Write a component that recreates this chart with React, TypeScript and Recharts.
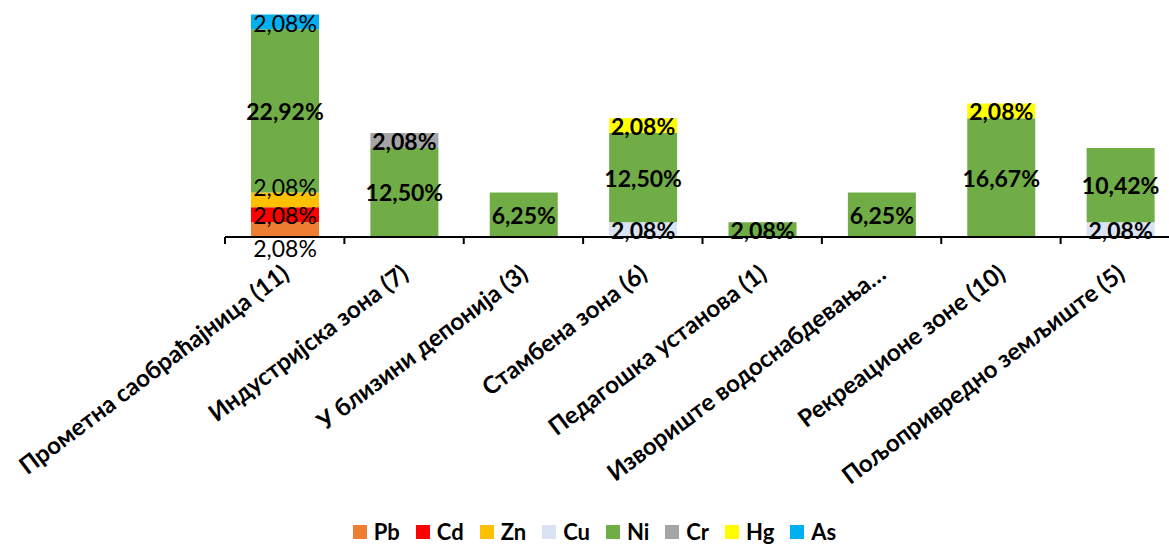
import { Bar, BarChart, LabelList, Legend, XAxis, YAxis } from "recharts";

const categories = [
  "Прометна саобраћајница (11)",
  "Индустријска зона (7)",
  "У близини депонија (3)",
  "Стамбена зона (6)",
  "Педагошка установа (1)",
  "Извориште водоснабдевања…",
  "Рекреационе зоне (10)",
  "Пољопривредно земљиште (5)",
];

const pb = [2.08, null, null, null, null, null, null, null];
const cd = [2.08, null, null, null, null, null, null, null];
const zn = [2.08, null, null, null, null, null, null, null];
const cu = [null, null, null, 2.08, null, null, null, 2.08];
const ni = [22.92, 12.5, 6.25, 12.5, 2.08, 6.25, 16.67, 10.42];
const cr = [null, 2.08, null, null, null, null, null, null];
const hg = [null, null, null, 2.08, null, null, 2.08, null];
const as = [2.08, null, null, null, null, null, null, null];

const series = [
  { key: "Pb", values: pb, color: "#ED7D31" },
  { key: "Cd", values: cd, color: "#FF0000" },
  { key: "Zn", values: zn, color: "#FFC000" },
  { key: "Cu", values: cu, color: "#DAE3F3" },
  { key: "Ni", values: ni, color: "#70AD47" },
  { key: "Cr", values: cr, color: "#A5A5A5" },
  { key: "Hg", values: hg, color: "#FFFF00" },
  { key: "As", values: as, color: "#00B0F0" },
];

const data = categories.map((name, i) => {
  const row: Record<string, string | number | null> = { name };
  series.forEach((s) => {
    row[s.key] = s.values[i];
  });
  return row;
});

const FONT = "Lato, 'Open Sans', sans-serif";

// first bar has a few labels that Excel drew thin and nudged
const firstBarTweaks: Record<string, { dy: number; bold: boolean }> = {
  Pb: { dy: 18, bold: false },
  Cd: { dy: 0, bold: false },
  Zn: { dy: -13, bold: false },
  As: { dy: 1, bold: false },
};

const fmt = (v: number) => v.toFixed(2).replace(".", ",") + "%";

const segmentLabel = (key: string) => (props: any) => {
  const { x, y, width, height, value, index } = props;
  if (value == null || value === 0) return null;
  const tweak = index === 0 ? firstBarTweaks[key] : undefined;
  return (
    <text
      x={Number(x) + Number(width) / 2}
      y={Number(y) + Number(height) / 2 + (tweak ? tweak.dy : 0)}
      textAnchor="middle"
      dominantBaseline="central"
      fontFamily={FONT}
      fontSize={23}
      fontWeight={tweak && !tweak.bold ? 400 : 700}
      fill="#000"
    >
      {fmt(Number(value))}
    </text>
  );
};

function CategoryTick(props: any) {
  const { x, y, payload } = props;
  const half = payload?.offset ?? 59.7;
  const axisY = y - 8;
  return (
    <g>
      <line x1={x - half} x2={x - half} y1={axisY} y2={axisY + 7} stroke="#000" strokeWidth={2} />
      <text
        transform={`translate(${x + 6},${axisY + 40}) rotate(-37)`}
        textAnchor="end"
        fontFamily={FONT}
        fontSize={24}
        fontWeight={700}
        fill="#000"
      >
        {payload.value}
      </text>
    </g>
  );
}

function LegendContent() {
  return (
    <div style={{ display: "flex", justifyContent: "center", fontFamily: FONT, lineHeight: "23px" }}>
      {series.map((s) => (
        <div key={s.key} style={{ display: "flex", alignItems: "center", marginRight: 16 }}>
          <span style={{ width: 14, height: 14, background: s.color, display: "inline-block", marginRight: 7 }} />
          <span style={{ fontSize: 22, fontWeight: 700, color: "#000" }}>{s.key}</span>
        </div>
      ))}
    </div>
  );
}

export default function App() {
  return (
    <div style={{ position: "fixed", left: 0, top: 0, width: 1169, height: 544, overflow: "hidden", background: "#fff" }}>
      <BarChart
        width={1190}
        height={544}
        data={data}
        margin={{ top: 9, right: 10, left: 225, bottom: 157 }}
        barSize={68}
      >
        <XAxis
          dataKey="name"
          interval={0}
          height={150}
          tickLine={false}
          tickSize={6}
          tickMargin={2}
          axisLine={{ stroke: "#000", strokeWidth: 2 }}
          tick={<CategoryTick />}
        />
        <YAxis hide domain={[0, 32]} />
        <Legend
          verticalAlign="middle"
          align="center"
          wrapperStyle={{ top: 520, left: 18, width: 1169 }}
          content={<LegendContent />}
        />
        {series.map((s) => (
          <Bar key={s.key} dataKey={s.key} stackId="a" fill={s.color} isAnimationActive={false}>
            <LabelList dataKey={s.key} content={segmentLabel(s.key)} />
          </Bar>
        ))}
      </BarChart>
    </div>
  );
}
